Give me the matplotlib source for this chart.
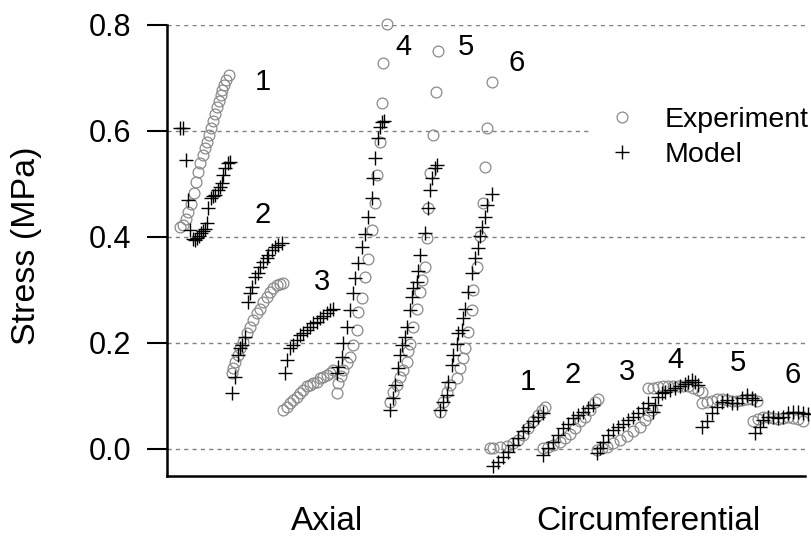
import numpy as np
import matplotlib
matplotlib.use("Agg")
import matplotlib.pyplot as plt

# stress values (MPa); x is position along the plot (arbitrary units)
axial1_exp_x = [180, 183, 186, 188, 191, 194, 196, 198, 200, 203, 205, 207, 209, 211, 213, 215, 217, 219, 221, 222, 224, 226, 229]
axial1_exp_y = [0.419, 0.423, 0.434, 0.447, 0.462, 0.483, 0.504, 0.523, 0.540, 0.555, 0.568, 0.579, 0.592, 0.606, 0.619, 0.632, 0.645, 0.657, 0.668, 0.677, 0.687, 0.696, 0.706]
axial1_mod_x = [180, 183, 186, 188, 190, 193, 195, 197, 199, 201, 203, 205, 207, 208, 211, 213, 215, 218, 220, 222, 223, 225, 228, 230]
axial1_mod_y = [0.606, 0.606, 0.545, 0.470, 0.413, 0.396, 0.394, 0.398, 0.402, 0.407, 0.411, 0.415, 0.426, 0.455, 0.474, 0.477, 0.479, 0.489, 0.495, 0.502, 0.517, 0.530, 0.540, 0.542]

axial2_exp_x = [232, 233, 235, 238, 240, 243, 247, 250, 253, 257, 260, 263, 267, 270, 273, 277, 280, 283]
axial2_exp_y = [0.143, 0.152, 0.165, 0.177, 0.190, 0.202, 0.218, 0.231, 0.243, 0.256, 0.265, 0.278, 0.287, 0.297, 0.303, 0.309, 0.311, 0.313]
axial2_mod_x = [232, 235, 238, 240, 242, 245, 248, 250, 252, 255, 258, 260, 263, 267, 268, 272, 275, 278, 282]
axial2_mod_y = [0.105, 0.136, 0.177, 0.190, 0.196, 0.212, 0.278, 0.294, 0.306, 0.325, 0.332, 0.344, 0.353, 0.360, 0.366, 0.375, 0.382, 0.385, 0.388]

axial3_exp_x = [283, 287, 290, 293, 297, 300, 303, 307, 310, 313, 317, 320, 323, 327, 330, 333]
axial3_exp_y = [0.074, 0.080, 0.086, 0.092, 0.099, 0.105, 0.111, 0.118, 0.121, 0.124, 0.127, 0.133, 0.136, 0.140, 0.143, 0.149]
axial3_mod_x = [285, 287, 290, 293, 297, 300, 303, 307, 310, 313, 317, 320, 323, 327, 330, 333]
axial3_mod_y = [0.143, 0.168, 0.190, 0.196, 0.206, 0.215, 0.218, 0.225, 0.231, 0.237, 0.240, 0.247, 0.250, 0.256, 0.262, 0.265]

axial4_exp_x = [337, 338, 341, 343, 347, 350, 353, 357, 358, 362, 365, 368, 372, 375, 377, 380, 382, 383, 387]
axial4_exp_y = [0.105, 0.125, 0.138, 0.149, 0.162, 0.174, 0.196, 0.225, 0.258, 0.285, 0.325, 0.358, 0.413, 0.464, 0.517, 0.579, 0.653, 0.728, 0.802]
axial4_mod_x = [337, 338, 342, 343, 347, 350, 353, 355, 358, 362, 365, 368, 372, 373, 375, 378, 380, 382, 384]
axial4_mod_y = [0.143, 0.155, 0.174, 0.200, 0.230, 0.262, 0.294, 0.323, 0.351, 0.381, 0.406, 0.438, 0.474, 0.511, 0.549, 0.587, 0.608, 0.617, 0.619]

axial5_exp_x = [390, 393, 397, 400, 403, 407, 408, 410, 413, 417, 420, 422, 425, 427, 428, 430, 433, 436, 438]
axial5_exp_y = [0.089, 0.108, 0.121, 0.136, 0.149, 0.165, 0.184, 0.199, 0.231, 0.265, 0.297, 0.319, 0.344, 0.398, 0.454, 0.520, 0.592, 0.673, 0.751]
axial5_mod_x = [390, 393, 395, 398, 400, 402, 405, 407, 410, 412, 413, 417, 418, 420, 425, 428, 430, 432, 435, 437]
axial5_mod_y = [0.074, 0.096, 0.121, 0.152, 0.177, 0.196, 0.212, 0.231, 0.262, 0.287, 0.303, 0.316, 0.335, 0.366, 0.407, 0.454, 0.489, 0.511, 0.530, 0.535]

axial6_exp_x = [440, 443, 447, 450, 457, 460, 463, 465, 468, 472, 473, 477, 480, 483, 485, 487, 492]
axial6_exp_y = [0.070, 0.089, 0.108, 0.121, 0.133, 0.152, 0.171, 0.190, 0.221, 0.262, 0.300, 0.344, 0.401, 0.464, 0.533, 0.605, 0.693]
axial6_mod_x = [440, 443, 447, 448, 452, 453, 457, 458, 462, 463, 465, 468, 472, 475, 478, 480, 482, 485, 487, 492]
axial6_mod_y = [0.074, 0.089, 0.102, 0.127, 0.158, 0.177, 0.199, 0.218, 0.225, 0.247, 0.265, 0.297, 0.332, 0.360, 0.379, 0.401, 0.419, 0.438, 0.460, 0.482]

circ1_exp_x = [490, 493, 500, 507, 513, 518, 523, 528, 533, 538, 542, 545]
circ1_exp_y = [0.001, 0.001, 0.003, 0.006, 0.011, 0.017, 0.026, 0.039, 0.052, 0.064, 0.074, 0.080]
circ1_mod_x = [493, 498, 503, 508, 513, 518, 523, 528, 533, 538, 543]
circ1_mod_y = [-0.033, -0.024, -0.015, -0.005, 0.008, 0.020, 0.033, 0.042, 0.052, 0.061, 0.067]

circ2_exp_x = [543, 548, 553, 560, 565, 570, 575, 580, 585, 590, 595, 598]
circ2_exp_y = [0.001, 0.004, 0.008, 0.014, 0.020, 0.029, 0.039, 0.052, 0.061, 0.074, 0.089, 0.094]
circ2_mod_x = [543, 548, 553, 558, 563, 568, 573, 578, 583, 588, 593]
circ2_mod_y = [-0.011, 0.001, 0.014, 0.026, 0.039, 0.048, 0.058, 0.064, 0.070, 0.077, 0.083]

circ3_exp_x = [597, 602, 607, 613, 620, 627, 633, 640, 645, 648, 652]
circ3_exp_y = [-0.002, 0.001, 0.004, 0.011, 0.017, 0.025, 0.033, 0.042, 0.055, 0.064, 0.074]
circ3_mod_x = [597, 600, 603, 608, 613, 618, 623, 628, 633, 638, 643, 648]
circ3_mod_y = [-0.008, 0.001, 0.014, 0.026, 0.036, 0.042, 0.048, 0.055, 0.061, 0.067, 0.077, 0.086]

circ4_exp_x = [648, 653, 658, 663, 668, 673, 678, 683, 688, 693, 698, 702]
circ4_exp_y = [0.115, 0.115, 0.117, 0.118, 0.118, 0.118, 0.119, 0.119, 0.118, 0.115, 0.111, 0.108]
circ4_mod_x = [653, 655, 658, 662, 665, 670, 675, 680, 685, 688, 692, 695, 698]
circ4_mod_y = [0.070, 0.083, 0.099, 0.106, 0.108, 0.111, 0.115, 0.118, 0.123, 0.127, 0.130, 0.127, 0.121]

circ5_exp_x = [702, 707, 712, 717, 722, 727, 732, 737, 742, 747, 752, 757]
circ5_exp_y = [0.087, 0.089, 0.091, 0.094, 0.094, 0.092, 0.091, 0.091, 0.092, 0.094, 0.094, 0.091]
circ5_mod_x = [702, 707, 712, 717, 722, 727, 732, 737, 742, 747, 752, 755]
circ5_mod_y = [0.042, 0.052, 0.067, 0.080, 0.089, 0.092, 0.086, 0.086, 0.096, 0.102, 0.096, 0.092]

circ6_exp_x = [753, 758, 763, 768, 773, 778, 783, 788, 793, 798, 803]
circ6_exp_y = [0.053, 0.056, 0.060, 0.060, 0.058, 0.056, 0.058, 0.060, 0.058, 0.056, 0.053]
circ6_mod_x = [755, 760, 763, 768, 773, 778, 783, 788, 793, 798, 803, 808]
circ6_mod_y = [0.030, 0.042, 0.055, 0.061, 0.060, 0.058, 0.061, 0.067, 0.070, 0.069, 0.067, 0.066]

# series number labels
axial_label_x = [263, 263, 322, 403, 466, 517]
axial_label_y = [0.692, 0.441, 0.316, 0.759, 0.759, 0.728]
circ_label_x = [528, 573, 627, 675, 738, 793]
circ_label_y = [0.127, 0.140, 0.146, 0.168, 0.162, 0.140]
series_names = ["1", "2", "3", "4", "5", "6"]

y_ticks = [0.0, 0.2, 0.4, 0.6, 0.8]

plt.rcParams['font.family'] = ['Liberation Sans', 'DejaVu Sans']

fig_w, fig_h = 811, 557
fig = plt.figure(figsize=(fig_w / 100.0, fig_h / 100.0), dpi=100)
ax = fig.add_axes([167.0 / fig_w, 1 - 476.0 / fig_h, (805.0 - 167.0) / fig_w, (476.0 - 25.0) / fig_h])

exp_style = dict(linestyle='none', marker='o', markersize=7.8, markerfacecolor='none',
                 markeredgecolor='#8a8a8a', markeredgewidth=0.9, clip_on=False, zorder=3)
mod_style = dict(linestyle='none', marker='+', markersize=9.5, color='black',
                 markeredgewidth=1.0, clip_on=False, zorder=4)

exp_series = [(axial1_exp_x, axial1_exp_y), (axial2_exp_x, axial2_exp_y), (axial3_exp_x, axial3_exp_y),
              (axial4_exp_x, axial4_exp_y), (axial5_exp_x, axial5_exp_y), (axial6_exp_x, axial6_exp_y),
              (circ1_exp_x, circ1_exp_y), (circ2_exp_x, circ2_exp_y), (circ3_exp_x, circ3_exp_y),
              (circ4_exp_x, circ4_exp_y), (circ5_exp_x, circ5_exp_y), (circ6_exp_x, circ6_exp_y)]
mod_series = [(axial1_mod_x, axial1_mod_y), (axial2_mod_x, axial2_mod_y), (axial3_mod_x, axial3_mod_y),
              (axial4_mod_x, axial4_mod_y), (axial5_mod_x, axial5_mod_y), (axial6_mod_x, axial6_mod_y),
              (circ1_mod_x, circ1_mod_y), (circ2_mod_x, circ2_mod_y), (circ3_mod_x, circ3_mod_y),
              (circ4_mod_x, circ4_mod_y), (circ5_mod_x, circ5_mod_y), (circ6_mod_x, circ6_mod_y)]

for i, (xs, ys) in enumerate(exp_series):
    ax.plot(xs, ys, label="Experiment" if i == 0 else None, **exp_style)
for i, (xs, ys) in enumerate(mod_series):
    ax.plot(xs, ys, label="Model" if i == 0 else None, **mod_style)

font_size = 21
for name, x, y in zip(series_names, axial_label_x, axial_label_y):
    ax.text(x, y, name, fontsize=font_size, ha='center', va='center')
for name, x, y in zip(series_names, circ_label_x, circ_label_y):
    ax.text(x, y, name, fontsize=font_size, ha='center', va='center')

ax.set_xlim(167, 805)
ax.set_ylim(-0.051, 0.8)
ax.set_yticks(y_ticks)
ax.set_yticklabels(["%.1f" % t for t in y_ticks])
ax.set_xticks([])
ax.yaxis.grid(True, linestyle=(0, (3, 3)), color='#808080', linewidth=1.0)
ax.set_axisbelow(True)
ax.tick_params(axis='y', direction='out', length=14.5, width=1.5, pad=11, labelsize=22)
for side in ['top', 'right']:
    ax.spines[side].set_visible(False)
for side in ['left', 'bottom']:
    ax.spines[side].set_linewidth(1.8)
ax.spines['left'].set_bounds(-0.051, 0.8)

fig.text(27.0 / fig_w, 1 - 246.0 / fig_h, "Stress (MPa)", rotation=90, fontsize=24.5,
         ha='center', va='center')
fig.text(327.0 / fig_w, 1 - 522.0 / fig_h, "Axial", fontsize=24, ha='center', va='center')
fig.text(648.0 / fig_w, 1 - 522.0 / fig_h, "Circumferential", fontsize=24, ha='center', va='center')

leg = ax.legend(loc='upper left', bbox_to_anchor=(589.0 / fig_w, 1 - 96.0 / fig_h),
                bbox_transform=fig.transFigure, fontsize=20.5, frameon=True, fancybox=False,
                handlelength=1.5, handletextpad=0.75, borderpad=0.4, labelspacing=0.3,
                borderaxespad=0)
leg.get_frame().set_facecolor('white')
leg.get_frame().set_edgecolor('none')
leg.get_frame().set_alpha(1.0)

plt.savefig("out.png", dpi=100)
